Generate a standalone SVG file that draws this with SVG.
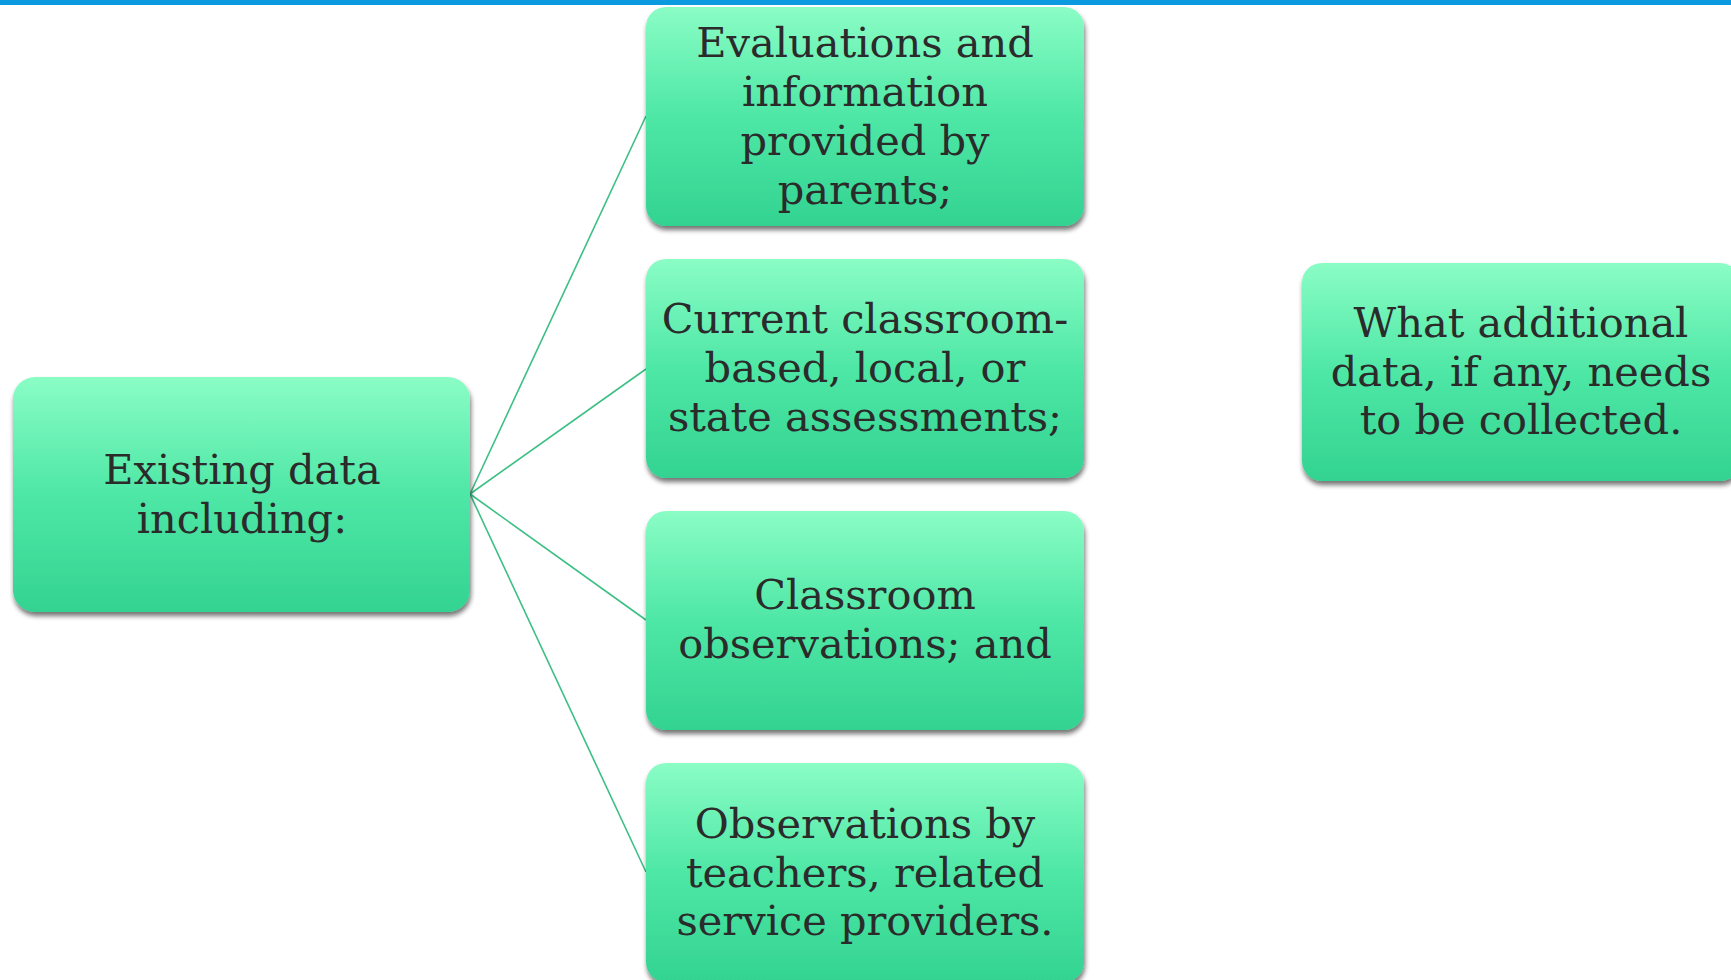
<svg xmlns="http://www.w3.org/2000/svg" width="1731" height="980" viewBox="0 0 1731 980">
<style>
.box{fill:url(#g);filter:url(#sh);}
.t{font-family:"DejaVu Serif","Liberation Serif",serif;font-size:41.5px;fill:#2b2b2b;text-anchor:middle;}
.c{stroke:#3cbf85;stroke-width:1.6;fill:none;}
</style>
<defs>
<linearGradient id="g" x1="0" y1="0" x2="0" y2="1">
<stop offset="0" stop-color="#8afdc5"/>
<stop offset="0.5" stop-color="#4ee7a6"/>
<stop offset="1" stop-color="#33d391"/>
</linearGradient>
<filter id="sh" x="-5%" y="-5%" width="112%" height="115%">
<feGaussianBlur in="SourceAlpha" stdDeviation="2.5"/>
<feOffset dx="1" dy="4" result="b"/>
<feComponentTransfer><feFuncA type="linear" slope="0.55"/></feComponentTransfer>
<feMerge><feMergeNode/><feMergeNode in="SourceGraphic"/></feMerge>
</filter>
</defs>
<rect x="0" y="0" width="1731" height="980" fill="#ffffff"/>
<rect x="0" y="0" width="1731" height="5" fill="#0b9ae0"/>
<g id="connectors">
<line class="c" x1="470" y1="494" x2="646" y2="116"/>
<line class="c" x1="470" y1="494" x2="646" y2="369"/>
<line class="c" x1="470" y1="494" x2="646" y2="620"/>
<line class="c" x1="470" y1="494" x2="646" y2="872"/>
</g>
<g id="node-existing">
<rect class="box" x="13" y="377" width="457" height="235" rx="22"/>
<text class="t" x="242" y="484">Existing data</text>
<text class="t" x="242" y="533">including:</text>
</g>
<g id="node-evaluations">
<rect class="box" x="646" y="7" width="438" height="219" rx="20"/>
<text class="t" x="865" y="57">Evaluations and</text>
<text class="t" x="865" y="106">information</text>
<text class="t" x="865" y="155">provided by</text>
<text class="t" x="865" y="204">parents;</text>
</g>
<g id="node-current">
<rect class="box" x="646" y="259" width="438" height="219" rx="20"/>
<text class="t" x="865" y="333">Current classroom-</text>
<text class="t" x="865" y="382">based, local, or</text>
<text class="t" x="865" y="431">state assessments;</text>
</g>
<g id="node-classroom">
<rect class="box" x="646" y="511" width="438" height="219" rx="20"/>
<text class="t" x="865" y="609">Classroom</text>
<text class="t" x="865" y="658">observations; and</text>
</g>
<g id="node-observations">
<rect class="box" x="646" y="763" width="438" height="219" rx="20"/>
<text class="t" x="865" y="838">Observations by</text>
<text class="t" x="865" y="887">teachers, related</text>
<text class="t" x="865" y="935">service providers.</text>
</g>
<g id="node-additional">
<rect class="box" x="1302" y="263" width="438" height="218" rx="20"/>
<text class="t" x="1521" y="337">What additional</text>
<text class="t" x="1521" y="386">data, if any, needs</text>
<text class="t" x="1521" y="434">to be collected.</text>
</g>
</svg>
